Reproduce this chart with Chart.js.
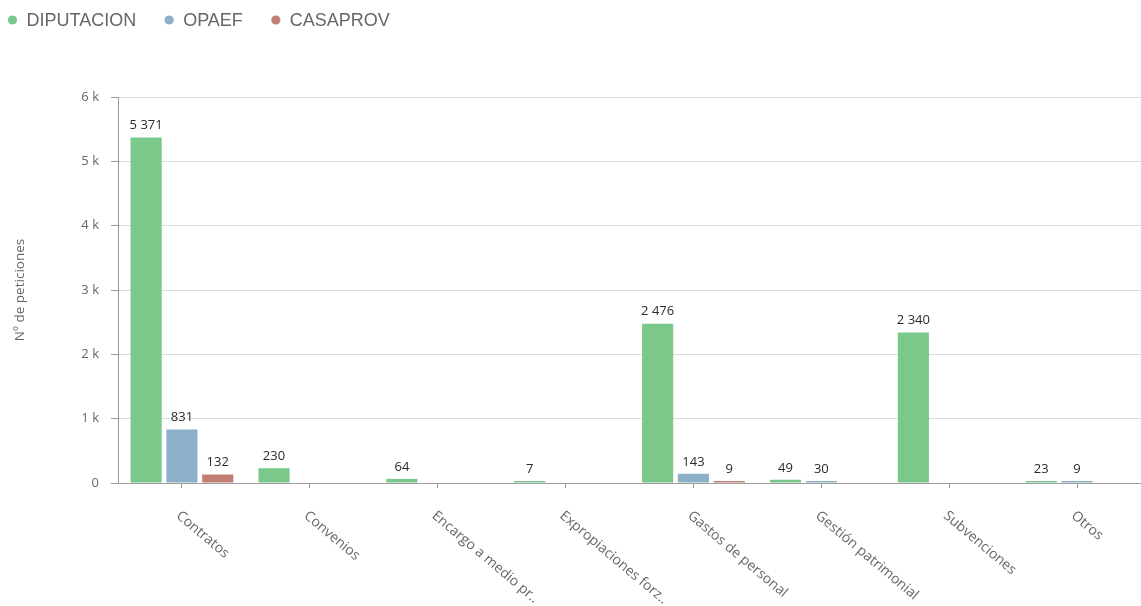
<!DOCTYPE html>
<html lang="es">
<head>
<meta charset="utf-8">
<title>Nº de peticiones por materia</title>
<script src="https://cdn.jsdelivr.net/npm/chart.js@4/dist/chart.umd.min.js"></script>
<style>
  html, body { margin: 0; padding: 0; background: #ffffff; }
  #wrap { position: relative; width: 1141px; height: 606px; }
</style>
</head>
<body>
<div id="wrap"><canvas id="chart"></canvas></div>
<script>
// Materias (eje X)
const categories = [
  'Contratos',
  'Convenios',
  'Encargo a medio pr..',
  'Expropiaciones forz..',
  'Gastos de personal',
  'Gestión patrimonial',
  'Subvenciones',
  'Otros'
];

// Peticiones por organismo (null = sin peticiones)
const diputacion = [5371, 230, 64, 7, 2476, 49, 2340, 23];
const opaef      = [831, null, null, null, 143, 30, null, 9];
const casaprov   = [132, null, null, null, 9, null, null, null];

const seriesNames  = ['DIPUTACION', 'OPAEF', 'CASAPROV'];
const seriesColors = ['#7bc98a', '#8bb0c7', '#c08073'];

// Eje Y
const yTicks = [0, 1000, 2000, 3000, 4000, 5000, 6000];
const yTitle = 'Nº de peticiones';

const thousands = v => String(v).replace(/\B(?=(\d{3})+(?!\d))/g, ' ');
const kLabel = v => (v === 0 ? '0' : (v / 1000) + ' k');

// Leyenda superior con marcadores circulares
const topLegend = {
  id: 'topLegend',
  afterDraw(chart) {
    const ctx = chart.ctx;
    ctx.save();
    ctx.font = '18px "Liberation Sans", Arial, sans-serif';
    ctx.textAlign = 'left';
    ctx.textBaseline = 'middle';
    let cx = 12.5;
    const cy = 20;
    chart.data.datasets.forEach(ds => {
      ctx.fillStyle = ds.backgroundColor;
      ctx.beginPath();
      ctx.arc(cx, cy, 4.6, 0, Math.PI * 2);
      ctx.fill();
      ctx.fillStyle = '#666666';
      const tx = cx + 14;
      ctx.fillText(ds.label, tx, cy + 1);
      cx = tx + ctx.measureText(ds.label).width + 33;
    });
    ctx.restore();
  }
};

// Valores encima de cada barra
const barValues = {
  id: 'barValues',
  afterDatasetsDraw(chart) {
    const ctx = chart.ctx;
    ctx.save();
    ctx.font = '13px "Open Sans", sans-serif';
    ctx.fillStyle = '#2b2b2b';
    ctx.textAlign = 'center';
    ctx.textBaseline = 'middle';
    chart.data.datasets.forEach((ds, di) => {
      const meta = chart.getDatasetMeta(di);
      meta.data.forEach((bar, i) => {
        const v = ds.data[i];
        if (v === null || v === undefined || v === 0) return;
        ctx.fillText(thousands(v), bar.x, bar.y - 12);
      });
    });
    ctx.restore();
  }
};

// Etiquetas del eje X giradas en sentido horario
const slantedLabels = {
  id: 'slantedLabels',
  afterDraw(chart) {
    const scale = chart.scales.x;
    const ctx = chart.ctx;
    ctx.save();
    ctx.font = '14px "Open Sans", sans-serif';
    ctx.fillStyle = '#666666';
    ctx.textAlign = 'left';
    ctx.textBaseline = 'middle';
    chart.data.labels.forEach((label, i) => {
      const x = scale.getPixelForTick(i);
      ctx.save();
      ctx.translate(x - 4, scale.top + 31);
      ctx.rotate(40 * Math.PI / 180);
      ctx.fillText(label, 0, 0);
      ctx.restore();
    });
    ctx.restore();
  }
};

const seriesData = [diputacion, opaef, casaprov];

new Chart(document.getElementById('chart'), {
  type: 'bar',
  data: {
    labels: categories,
    datasets: seriesNames.map((name, k) => ({
      label: name,
      data: seriesData[k],
      backgroundColor: seriesColors[k],
      borderWidth: 0,
      minBarLength: 2,
      categoryPercentage: 0.84,
      barPercentage: 0.87
    }))
  },
  options: {
    responsive: true,
    maintainAspectRatio: false,
    animation: false,
    layout: { padding: { top: 97, left: 0, right: 0, bottom: 0 } },
    plugins: {
      legend: { display: false },
      tooltip: { enabled: false }
    },
    scales: {
      x: {
        offset: true,
        grid: {
          display: true,
          drawOnChartArea: false,
          drawTicks: true,
          offset: false,
          tickLength: 5,
          color: '#9a9a9a'
        },
        border: { display: true, color: '#a0a0a0' },
        ticks: { display: false },
        afterFit(scale) { scale.height = 123; }
      },
      y: {
        min: 0,
        max: 6000,
        afterBuildTicks(scale) { scale.ticks = yTicks.map(v => ({ value: v })); },
        ticks: {
          callback: v => kLabel(v),
          color: '#666666',
          font: { family: 'Open Sans', size: 13 },
          padding: 12
        },
        grid: {
          color: '#dddddd',
          tickColor: '#9a9a9a',
          tickLength: 7,
          lineWidth: 1
        },
        border: { display: true, color: '#9a9a9a' },
        title: {
          display: true,
          text: yTitle,
          color: '#666666',
          font: { family: 'Open Sans', size: 13.5 },
          padding: { top: 12, bottom: 0 }
        },
        afterFit(scale) { scale.width = 118; }
      }
    }
  },
  plugins: [topLegend, barValues, slantedLabels]
});
</script>
</body>
</html>
